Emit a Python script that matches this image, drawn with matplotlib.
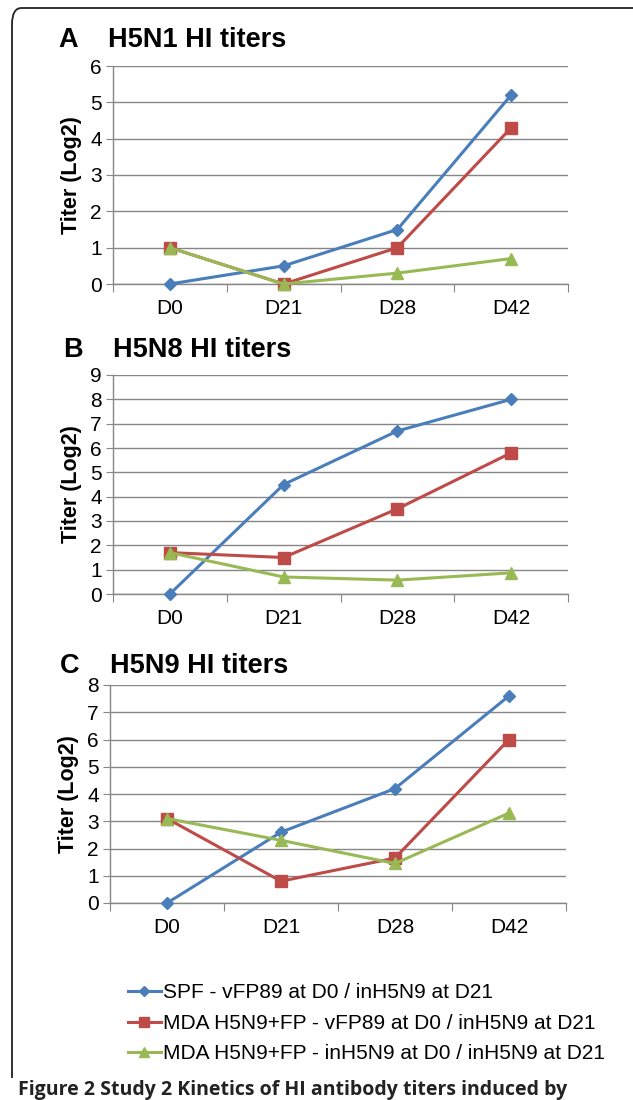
import matplotlib
matplotlib.use("Agg")
import matplotlib.pyplot as plt
from matplotlib.patches import FancyBboxPatch, Rectangle

plt.rcParams["font.family"] = ["Liberation Sans", "DejaVu Sans"]

# データ
days = ["D0", "D21", "D28", "D42"]
series_names = [
    "SPF - vFP89 at D0 / inH5N9 at D21",
    "MDA H5N9+FP - vFP89 at D0 / inH5N9 at D21",
    "MDA H5N9+FP - inH5N9 at D0 / inH5N9 at D21",
]

h5n1_spf = [0, 0.5, 1.5, 5.2]
h5n1_mda_vfp = [1.0, 0.0, 1.0, 4.3]
h5n1_mda_inh = [1.0, 0.0, 0.3, 0.7]

h5n8_spf = [0, 4.5, 6.7, 8.0]
h5n8_mda_vfp = [1.7, 1.5, 3.5, 5.8]
h5n8_mda_inh = [1.7, 0.7, 0.57, 0.87]

h5n9_spf = [0, 2.6, 4.2, 7.6]
h5n9_mda_vfp = [3.1, 0.8, 1.65, 6.0]
h5n9_mda_inh = [3.1, 2.3, 1.45, 3.3]

panel_letters = ["A", "B", "C"]
panel_titles = ["H5N1 HI titers", "H5N8 HI titers", "H5N9 HI titers"]
panel_ymax = [6, 9, 8]

colors = ["#4A7EBB", "#BE4B48", "#98B954"]
markers = ["D", "s", "^"]
marker_sizes = [6, 8.5, 9]

W, H = 633, 1100


def px(x0, y0, x1, y1):
    """ピクセル座標 -> figure座標"""
    return [x0 / W, 1 - y1 / H, (x1 - x0) / W, (y1 - y0) / H]


def draw_panel(fig, rect, letter, title, ymax, data, title_pos):
    ax = fig.add_axes(rect)
    x = [i + 0.5 for i in range(len(days))]

    for vals, c, m, ms in zip(data, colors, markers, marker_sizes):
        ax.plot(x, vals, color=c, lw=2.2, marker=m, markersize=ms,
                markeredgecolor=c, zorder=3, clip_on=False)

    ax.set_xlim(0, 4)
    ax.set_ylim(0, ymax)
    ax.set_yticks(range(0, ymax + 1))
    ax.set_xticks(range(0, 5))
    ax.set_xticklabels([])
    ax.set_xticks(x, minor=True)
    ax.set_xticklabels(days, minor=True, fontsize=15)
    ax.tick_params(axis="x", which="minor", length=0, pad=11)
    ax.tick_params(axis="x", which="major", length=6, color="#868686", direction="out")
    ax.tick_params(axis="y", length=5, color="#868686", labelsize=15, pad=3)

    ax.grid(axis="y", color="#868686", lw=1.0)
    ax.set_axisbelow(True)
    for s in ["top", "right"]:
        ax.spines[s].set_visible(False)
    for s in ["left", "bottom"]:
        ax.spines[s].set_color("#868686")
        ax.spines[s].set_linewidth(1.0)

    ax.set_ylabel("Titer (Log2)", fontsize=15.5, fontweight="bold", labelpad=6)

    lx, tx, ty = title_pos
    fig.text(lx / W, 1 - ty / H, letter, fontsize=19.5, fontweight="bold", va="center")
    fig.text(tx / W, 1 - ty / H, title, fontsize=19.5, fontweight="bold", va="center")
    return ax


def main():
    fig = plt.figure(figsize=(W / 100, H / 100), dpi=100)

    # 外枠(角丸)
    box = FancyBboxPatch((12 / W, -0.1), 1.2, 1 - 8 / H + 0.1,
                         boxstyle="round,pad=0,rounding_size=0.015",
                         transform=fig.transFigure, fill=False,
                         edgecolor="#222222", lw=1.3)
    fig.patches.append(box)

    draw_panel(fig, px(113, 66, 568, 284), panel_letters[0], panel_titles[0],
               panel_ymax[0], [h5n1_spf, h5n1_mda_vfp, h5n1_mda_inh], (58, 108, 40))
    draw_panel(fig, px(113, 375, 568, 594), panel_letters[1], panel_titles[1],
               panel_ymax[1], [h5n8_spf, h5n8_mda_vfp, h5n8_mda_inh], (63, 113, 350))
    draw_panel(fig, px(110, 685, 566, 903), panel_letters[2], panel_titles[2],
               panel_ymax[2], [h5n9_spf, h5n9_mda_vfp, h5n9_mda_inh], (60, 110, 666))

    # 凡例
    handles = [plt.Line2D([], [], color=c, lw=2.2, marker=m, markersize=ms * 0.8)
               for c, m, ms in zip(colors, markers, marker_sizes)]
    fig.legend(handles, series_names, loc="upper left",
               bbox_to_anchor=(120 / W, 1 - 975 / H), frameon=False,
               fontsize=15, handlelength=1.55, handletextpad=0.1,
               labelspacing=0.55, borderaxespad=0)

    # キャプション
    fig.patches.append(Rectangle((0, 0), 1, 1 - 1078 / H, transform=fig.transFigure,
                                 facecolor="white", edgecolor="none", zorder=5))
    fig.text(18 / W, 1 - 1080 / H,
             "Figure 2 Study 2 Kinetics of HI antibody titers induced by",
             fontsize=14, fontweight="bold", va="top", color="#222222",
             family=["Open Sans", "DejaVu Sans"], zorder=6)

    fig.savefig("out.png", dpi=100)


if __name__ == "__main__":
    main()
